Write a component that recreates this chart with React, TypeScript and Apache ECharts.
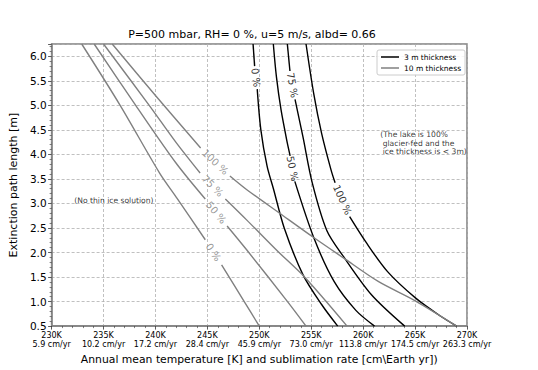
import React, { useEffect, useRef } from "react";
import * as echarts from "echarts";

const FONT = "DejaVu Sans";
const TITLE = "P=500 mbar, RH= 0 %, u=5 m/s, albd= 0.66";
const X_NAME = "Annual mean temperature [K] and sublimation rate [cm\\Earth yr])";
const Y_NAME = "Extinction path length [m]";
const LEGEND_THIN = "3 m thickness";
const LEGEND_THICK = "10 m thickness";

const X_TICKS_K = [230, 235, 240, 245, 250, 255, 260, 265, 270];
const X_TICK_RATES = ["5.9", "10.2", "17.2", "28.4", "45.9", "73.0", "113.8", "174.5", "263.3"];
const X_MIN = 230;
const X_MAX = 270;
const X_STEP = 5;
const Y_MIN = 0.5;
const Y_MAX = 6.25;
const Y_STEP = 0.5;

// 3 m thickness contours (T [K], L [m]); each split where its inline label sits
const THIN_0 = [
  [[249.4, 6.25], [249.55, 5.8]],
  [[249.8, 5.33], [250.15, 4.5], [250.75, 3.76], [251.36, 3.3], [252.4, 2.5], [254.2, 1.55], [256.0, 0.94], [257.55, 0.5]],
];
const THIN_50 = [
  [[251.35, 6.25], [251.65, 5.58], [252.1, 4.9], [252.7, 4.23], [252.97, 3.97]],
  [[253.42, 3.45], [255.27, 2.29], [257.2, 1.41], [259.3, 0.82], [261.1, 0.5]],
];
const THIN_75 = [
  [[252.7, 6.25], [252.95, 5.7]],
  [[253.44, 5.12], [254.2, 4.36], [255.1, 3.42], [256.5, 2.45], [258.1, 1.92], [260.8, 1.14], [264.0, 0.5]],
];
const THIN_100 = [
  [[254.5, 6.25], [255.24, 5.24], [256.0, 4.43], [256.9, 3.69], [257.3, 3.42]],
  [[258.7, 2.73], [260.24, 2.22], [262.35, 1.61], [265.06, 1.07], [267.47, 0.7], [269.0, 0.5]],
];

// 10 m thickness contours
const THICK_0 = [
  [[232.9, 6.25], [236.6, 5.0], [240.4, 3.62], [242.1, 3.1], [244.8, 2.26]],
  [[246.37, 1.75], [248.55, 1.0], [250.0, 0.5]],
];
const THICK_50 = [
  [[234.1, 6.25], [238.1, 5.0], [241.96, 3.83], [244.8, 3.09]],
  [[246.9, 2.54], [248.8, 2.05], [252.68, 1.01], [254.5, 0.5]],
];
const THICK_75 = [
  [[235.0, 6.25], [239.4, 5.0], [241.96, 4.25], [244.3, 3.62]],
  [[246.73, 3.09], [248.8, 2.66], [251.8, 2.02], [254.4, 1.49], [258.45, 0.5]],
];
const THICK_100 = [
  [[235.84, 6.25], [240.0, 5.2], [244.35, 4.13]],
  [[247.17, 3.56], [248.8, 3.28], [251.96, 2.8], [255.27, 2.3], [258.1, 1.89], [261.45, 1.41], [265.06, 1.01], [269.0, 0.5]],
];

// inline contour labels: text, T, L, rotation (deg)
const THIN_LABELS: [string, number, number, number][] = [
  ["0 %", 249.675, 5.565, -83],
  ["50 %", 253.195, 3.71, -79],
  ["75 %", 253.195, 5.41, -80],
  ["100 %", 258.0, 3.075, -66],
];
const THICK_LABELS: [string, number, number, number][] = [
  ["100 %", 245.76, 3.845, -43],
  ["75 %", 245.515, 3.355, -45],
  ["50 %", 245.85, 2.815, -50],
  ["0 %", 245.585, 2.005, -56],
];

const NOTE_NO_SOLUTION = { text: "(No thin ice solution)", t: 236.0, l: 3.05 };
const NOTE_LAKE = { text: "(The lake is 100%\n glacier-fed and the\n ice thickness is < 3m)", t: 261.6, l: 4.23 };

const BLACK = "#000000";
const GRAY = "#808080";

function lineSeries(name: string, color: string, segs: number[][][]) {
  return segs.map((seg) => ({
    type: "line",
    name,
    data: seg,
    symbol: "none",
    showSymbol: false,
    smooth: 0.3,
    silent: true,
    lineStyle: { color, width: 1.4 },
    itemStyle: { color },
    z: 3,
  }));
}

function labelSeries(id: string, color: string, items: [string, number, number, number][]) {
  return {
    type: "scatter",
    name: id,
    symbolSize: 1,
    silent: true,
    itemStyle: { color: "rgba(0,0,0,0)" },
    data: items.map(([text, t, l, rot]) => ({ name: text, value: [t, l], label: { rotate: rot } })),
    label: {
      show: true,
      position: "inside",
      formatter: "{b}",
      color,
      fontSize: 10,
      fontFamily: FONT,
      align: "center",
      verticalAlign: "middle",
    },
    z: 4,
  };
}

export default function App() {
  const ref = useRef<HTMLDivElement>(null);

  useEffect(() => {
    if (!ref.current) return;
    const chart = echarts.init(ref.current, undefined, { renderer: "svg" });
    const gridLeft = 37;
    const gridRight = 71;
    const plotCenter = gridLeft + (538 - gridLeft - gridRight) / 2;

    const series: any[] = [
      ...lineSeries(LEGEND_THIN, BLACK, THIN_0),
      ...lineSeries(LEGEND_THIN, BLACK, THIN_50),
      ...lineSeries(LEGEND_THIN, BLACK, THIN_75),
      ...lineSeries(LEGEND_THIN, BLACK, THIN_100),
      ...lineSeries(LEGEND_THICK, GRAY, THICK_0),
      ...lineSeries(LEGEND_THICK, GRAY, THICK_50),
      ...lineSeries(LEGEND_THICK, GRAY, THICK_75),
      ...lineSeries(LEGEND_THICK, GRAY, THICK_100),
      labelSeries("thinLabels", BLACK, THIN_LABELS),
      labelSeries("thickLabels", GRAY, THICK_LABELS),
      {
        type: "scatter",
        name: "notes",
        symbolSize: 1,
        silent: true,
        itemStyle: { color: "rgba(0,0,0,0)" },
        data: [
          {
            name: NOTE_NO_SOLUTION.text,
            value: [NOTE_NO_SOLUTION.t, NOTE_NO_SOLUTION.l],
            label: { position: "inside", align: "center" },
          },
          {
            name: NOTE_LAKE.text,
            value: [NOTE_LAKE.t, NOTE_LAKE.l],
            label: { position: "right", distance: 0, align: "left" },
          },
        ],
        label: {
          show: true,
          formatter: "{b}",
          color: "#000",
          fontSize: 7.6,
          lineHeight: 8.7,
          fontFamily: FONT,
          verticalAlign: "middle",
        },
        z: 4,
      },
    ];

    chart.setOption({
      animation: false,
      backgroundColor: "#ffffff",
      textStyle: { fontFamily: FONT },
      graphic: [
        {
          type: "text",
          x: plotCenter,
          y: 34,
          silent: true,
          style: {
            text: TITLE,
            fontSize: 11,
            fontFamily: FONT,
            fill: "#000",
            align: "center",
            textAlign: "center",
            verticalAlign: "middle",
            textVerticalAlign: "middle",
          },
        },
      ],
      legend: {
        data: [LEGEND_THIN, LEGEND_THICK],
        orient: "vertical",
        left: 377,
        top: 50,
        icon: "rect",
        itemWidth: 18,
        itemHeight: 1.5,
        itemGap: 3,
        padding: [3, 4, 3, 4],
        selectedMode: false,
        borderColor: "#cccccc",
        borderWidth: 1,
        borderRadius: 2,
        backgroundColor: "rgba(255,255,255,0.85)",
        textStyle: { fontSize: 7.5, fontFamily: FONT, color: "#000" },
      },
      grid: {
        left: gridLeft,
        right: gridRight,
        top: 44,
        bottom: 41,
        show: true,
        borderColor: GRAY,
        borderWidth: 1.5,
        backgroundColor: "transparent",
      },
      xAxis: {
        type: "value",
        min: X_MIN,
        max: X_MAX,
        interval: X_STEP,
        axisLine: { show: true, onZero: false, lineStyle: { color: GRAY, width: 1.5 } },
        axisTick: { show: true, inside: false, length: 3.5, lineStyle: { color: "#333", width: 0.8 } },
        minorTick: { show: true, splitNumber: 5, length: 2, lineStyle: { color: "#333", width: 0.6 } },
        splitLine: { show: true, lineStyle: { color: "#b0b0b0", type: [3, 2], width: 0.8 } },
        axisLabel: {
          formatter: (v: number) => {
            const i = X_TICKS_K.indexOf(Math.round(v));
            return i >= 0 ? `${X_TICKS_K[i]}K\n${X_TICK_RATES[i]} cm/yr` : "";
          },
          fontSize: 8,
          lineHeight: 9,
          margin: 5,
          color: "#000",
          fontFamily: FONT,
        },
        name: X_NAME,
        nameLocation: "middle",
        nameGap: 21,
        nameTextStyle: { fontSize: 10.8, color: "#000", fontFamily: FONT },
      },
      yAxis: {
        type: "value",
        min: Y_MIN,
        max: Y_MAX,
        interval: Y_STEP,
        axisLine: { show: true, onZero: false, lineStyle: { color: GRAY, width: 1.5 } },
        axisTick: { show: true, inside: false, length: 3.5, lineStyle: { color: "#333", width: 0.8 } },
        minorTick: { show: true, splitNumber: 5, length: 2, lineStyle: { color: "#333", width: 0.6 } },
        splitLine: { show: true, lineStyle: { color: "#b0b0b0", type: [3, 2], width: 0.8 } },
        axisLabel: {
          formatter: (v: number) => v.toFixed(1),
          showMaxLabel: false,
          fontSize: 10.5,
          margin: 5,
          color: "#000",
          fontFamily: FONT,
        },
        name: Y_NAME,
        nameLocation: "middle",
        nameGap: 28,
        nameTextStyle: { fontSize: 11, color: "#000", fontFamily: FONT },
      },
      series,
    });

    return () => chart.dispose();
  }, []);

  return (
    <div
      ref={ref}
      style={{ position: "fixed", left: 0, top: 0, width: 538, height: 370, background: "#fff" }}
    />
  );
}
